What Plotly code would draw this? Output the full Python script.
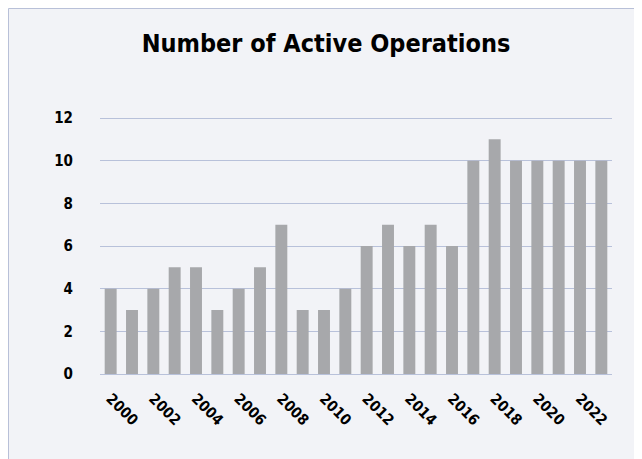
import plotly.graph_objects as go

years = [str(y) for y in range(2000, 2024)]
active_ops = [4, 3, 4, 5, 5, 3, 4, 5, 7, 3, 3, 4, 6, 7, 6, 7, 6, 10, 11, 10, 10, 10, 10, 10]
tick_years = [str(y) for y in range(2000, 2024, 2)]
y_ticks = [0, 2, 4, 6, 8, 10, 12]

# page body has an 8px margin, so the figure is sized to fit the window
W, H = 634, 451
L, R, T, B = 92, 30, 106, 85
pw, ph = W - L - R, H - T - B
unit = 256 / 12
y_top = 12 + 4 / unit

def px(x):
    return (x - L) / pw

def py(y):
    return (H - B - y) / ph

bg = "#f2f3f7"
fig = go.Figure()
fig.add_trace(go.Bar(x=years, y=active_ops, marker_color="#a7a8ab",
                     marker_line_width=0, width=0.56))

fig.add_shape(type="rect", xref="paper", yref="paper",
              x0=px(0.5), x1=px(680), y0=py(480), y1=py(0.5),
              fillcolor=bg, line=dict(color="#b8c0d8", width=1), layer="below")

tick_font = dict(family="DejaVu Sans Condensed", size=15, color="black", weight="bold")

fig.update_layout(
    width=W, height=H,
    margin=dict(l=L, r=R, t=T, b=B, pad=0),
    paper_bgcolor="white",
    plot_bgcolor=bg,
    showlegend=False,
    title=dict(text="<b>Number of Active Operations</b>", x=318 / W, xanchor="center",
               xref="container", y=1 - 35 / H, yref="container", yanchor="middle",
               font=dict(family="DejaVu Sans Condensed", size=25, color="black")),
    bargap=0.44,
)
fig.update_xaxes(type="category", tickmode="array", tickvals=tick_years, ticktext=tick_years,
                 tickangle=45, showgrid=False, showline=False, ticks="",
                 tickfont=tick_font, ticklabelstandoff=12)
fig.update_yaxes(range=[0, y_top], tickvals=y_ticks, showgrid=True, gridcolor="#b8c1da",
                 gridwidth=1, zeroline=True, zerolinecolor="#b8c1da", zerolinewidth=1,
                 showline=False, ticks="", ticklabelstandoff=26,
                 tickfont=tick_font)
fig.write_html("out.html")
